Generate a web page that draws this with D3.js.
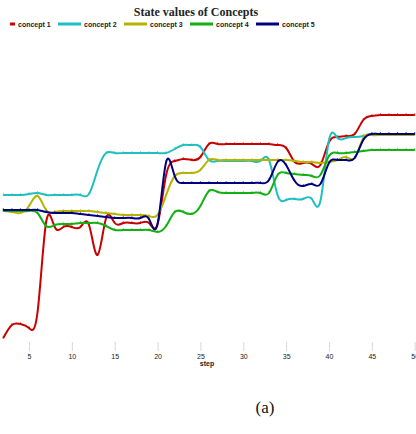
<!DOCTYPE html>
<html>
<head>
<meta charset="utf-8">
<script src="https://cdn.jsdelivr.net/npm/d3@7/dist/d3.min.js"></script>
<style>
  html, body { margin: 0; padding: 0; background: #fff; }
  svg { display: block; }
</style>
</head>
<body>
<svg id="chart" width="416" height="434"></svg>
<script>
// Simulation steps
const steps = d3.range(2, 51);

// State value of each concept at every step
const concept1 = [0.028,0.08,0.084,0.068,0.132,0.492,0.472,0.472,0.472,0.472,0.48,0.36,0.508,0.488,0.488,0.488,0.488,0.488,0.484,0.68,0.736,0.744,0.74,0.752,0.804,0.804,0.804,0.804,0.804,0.804,0.804,0.804,0.8,0.788,0.732,0.728,0.724,0.72,0.812,0.832,0.836,0.844,0.9,0.916,0.92,0.92,0.92,0.92,0.92];
const concept2 = [0.6,0.6,0.6,0.604,0.608,0.6,0.6,0.6,0.6,0.6,0.604,0.7,0.768,0.768,0.768,0.768,0.768,0.768,0.768,0.768,0.784,0.8,0.8,0.792,0.74,0.736,0.736,0.736,0.736,0.736,0.736,0.74,0.6,0.58,0.584,0.584,0.584,0.576,0.82,0.828,0.828,0.832,0.836,0.844,0.844,0.844,0.844,0.844,0.844];
const concept3 = [0.536,0.532,0.528,0.556,0.596,0.54,0.532,0.536,0.536,0.536,0.536,0.532,0.528,0.524,0.52,0.52,0.52,0.516,0.52,0.6,0.676,0.688,0.688,0.7,0.74,0.74,0.74,0.74,0.74,0.74,0.74,0.74,0.74,0.74,0.736,0.732,0.732,0.728,0.732,0.74,0.752,0.748,0.828,0.84,0.84,0.84,0.84,0.84,0.84];
const concept4 = [0.536,0.536,0.536,0.536,0.528,0.476,0.48,0.484,0.484,0.488,0.488,0.488,0.476,0.46,0.46,0.46,0.46,0.46,0.452,0.476,0.532,0.532,0.524,0.556,0.616,0.612,0.608,0.608,0.608,0.608,0.608,0.608,0.68,0.688,0.684,0.68,0.676,0.68,0.756,0.768,0.768,0.772,0.776,0.78,0.78,0.78,0.78,0.78,0.78];
const concept5 = [0.54,0.54,0.54,0.54,0.54,0.532,0.528,0.528,0.528,0.524,0.52,0.516,0.512,0.508,0.508,0.508,0.508,0.504,0.484,0.732,0.676,0.648,0.648,0.648,0.648,0.648,0.648,0.648,0.648,0.648,0.648,0.66,0.732,0.72,0.656,0.636,0.644,0.644,0.728,0.74,0.74,0.748,0.82,0.844,0.844,0.844,0.844,0.844,0.844];

const seriesNames = ["concept 1", "concept 2", "concept 3", "concept 4", "concept 5"];
const seriesValues = [concept1, concept2, concept3, concept4, concept5];
const seriesColors = ["#c80000", "#1fbfbf", "#b4b400", "#12b012", "#00007f"];

const xTicks = [5, 10, 15, 20, 25, 30, 35, 40, 45, 50];

const svg = d3.select("#chart");

const x = d3.scaleLinear().domain([5, 50]).range([29, 414.7]);
const y = d3.scaleLinear().domain([0, 1]).range([345, 95]);

// Title
svg.append("text")
  .attr("x", 196).attr("y", 16)
  .attr("text-anchor", "middle")
  .attr("font-family", "'Liberation Serif', 'Times New Roman', serif")
  .attr("font-weight", "bold")
  .attr("font-size", 12)
  .attr("fill", "#222")
  .text("State values of Concepts");

// Legend
const legendItems = [
  { lx0: 10, lx1: 15, tx: 18 },
  { lx0: 58, lx1: 81, tx: 84 },
  { lx0: 124, lx1: 147, tx: 150 },
  { lx0: 190, lx1: 213, tx: 216 },
  { lx0: 256, lx1: 279, tx: 282 }
];
const legend = svg.append("g");
legendItems.forEach((it, i) => {
  legend.append("line")
    .attr("x1", it.lx0).attr("x2", it.lx1)
    .attr("y1", 24).attr("y2", 24)
    .attr("stroke", seriesColors[i]).attr("stroke-width", 3);
  legend.append("text")
    .attr("x", it.tx).attr("y", 26.5)
    .attr("font-family", "'Liberation Sans', Arial, sans-serif")
    .attr("font-weight", "bold")
    .attr("font-size", 7)
    .attr("fill", "#222")
    .text(seriesNames[i]);
});

// X axis (ticks and labels only)
const xAxis = d3.axisBottom(x)
  .tickValues(xTicks)
  .tickSize(9)
  .tickPadding(3)
  .tickFormat(d3.format("d"));
const gx = svg.append("g")
  .attr("transform", "translate(0,342)")
  .call(xAxis);
gx.select(".domain").remove();
gx.selectAll(".tick line").attr("stroke", "#d8d8d8");
gx.selectAll(".tick text")
  .attr("font-family", "'Liberation Sans', Arial, sans-serif")
  .attr("font-size", 7)
  .attr("fill", "#222");

svg.append("text")
  .attr("x", 207).attr("y", 366)
  .attr("text-anchor", "middle")
  .attr("font-family", "'Liberation Sans', Arial, sans-serif")
  .attr("font-weight", "bold")
  .attr("font-size", 7)
  .attr("fill", "#222")
  .text("step");

// Series lines, smoothed with a natural cubic spline
const line = d3.line()
  .x((d, i) => x(steps[i]))
  .y(d => y(d))
  .curve(d3.curveNatural);

const lines = svg.append("g");
seriesValues.forEach((vals, i) => {
  lines.append("path")
    .datum(vals)
    .attr("d", line)
    .attr("fill", "none")
    .attr("stroke", seriesColors[i])
    .attr("stroke-width", 2)
    .attr("stroke-linejoin", "round");
  // step markers
  lines.append("g").selectAll("line")
    .data(vals)
    .join("line")
    .attr("x1", (d, j) => x(steps[j])).attr("x2", (d, j) => x(steps[j]))
    .attr("y1", d => y(d) - 2).attr("y2", d => y(d) + 1)
    .attr("stroke", seriesColors[i])
    .attr("stroke-opacity", 0.6)
    .attr("stroke-width", 1);
});

// Panel label
svg.append("text")
  .attr("x", 265).attr("y", 413)
  .attr("text-anchor", "middle")
  .attr("font-family", "'Liberation Serif', 'Times New Roman', serif")
  .attr("font-size", 17)
  .attr("fill", "#111")
  .text("(a)");
</script>
</body>
</html>
